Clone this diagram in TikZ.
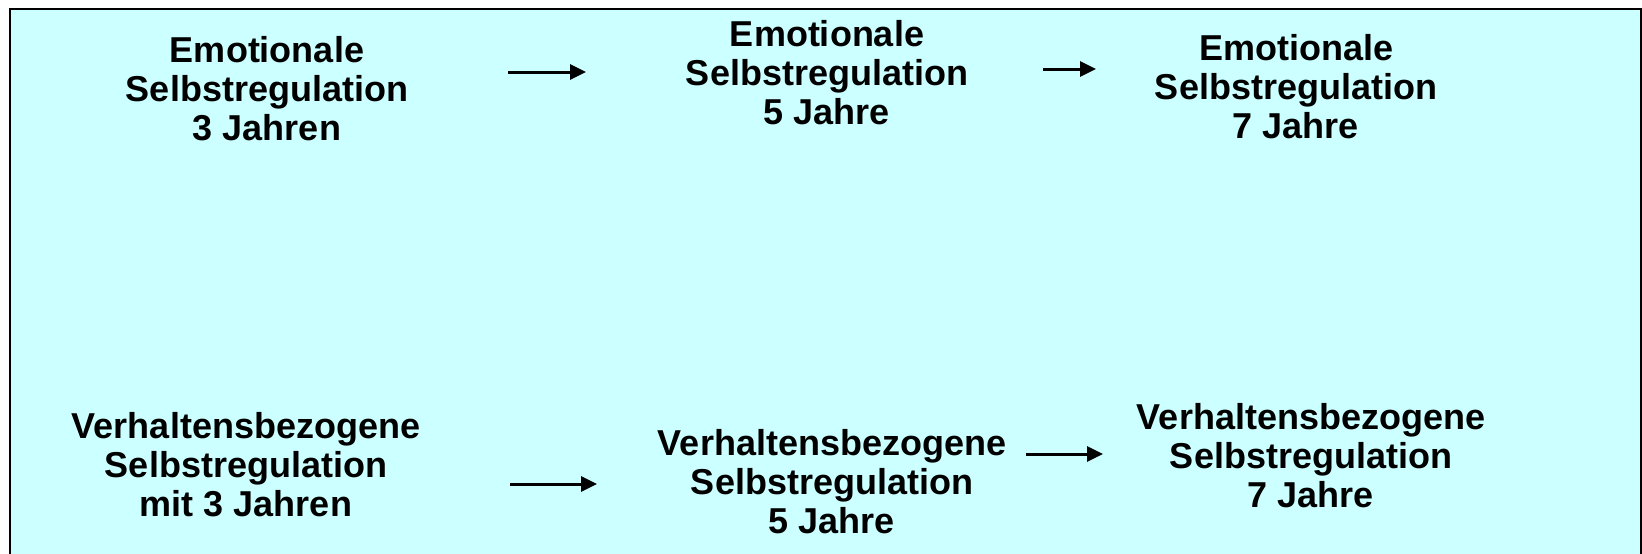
\documentclass[tikz,border=0pt]{standalone}
\usepackage{fontspec}
\setmainfont{Liberation Sans}
\usetikzlibrary{arrows.meta}
\definecolor{panelcyan}{RGB}{204,255,255}
\begin{document}
\begin{tikzpicture}
    [x=0.5pt,y=-0.5pt,
     every node/.style={inner sep=0pt,align=center,font=\bfseries\fontsize{18}{19.5}\selectfont},
     link/.style={-{Triangle[length=8pt,width=7.5pt]},line width=1.5pt}]
    \useasboundingbox (0,0) rectangle (1642,553);
    \fill[white] (0,0) rectangle (1642,553);
    \draw[fill=panelcyan,line width=1.2pt] (10,9) rectangle (1641,570);
    % emotionale Selbstregulation
    \node (emo3) at (267,89)  {Emotionale\\Selbstregulation\\3 Jahren};
    \node (emo5) at (827,73)  {Emotionale\\Selbstregulation\\5 Jahre};
    \node (emo7) at (1296,87) {Emotionale\\Selbstregulation\\7 Jahre};
    % verhaltensbezogene Selbstregulation
    \node (verh3) at (246,465)  {Verhaltensbezogene\\Selbstregulation\\mit 3 Jahren};
    \node (verh5) at (832,482)  {Verhaltensbezogene\\Selbstregulation\\5 Jahre};
    \node (verh7) at (1311,456) {Verhaltensbezogene\\Selbstregulation\\7 Jahre};
    % Pfeile
    \coordinate (emoA) at (508,72);
    \coordinate (emoB) at (586,72);
    \coordinate (emoC) at (1043,69);
    \coordinate (emoD) at (1096,69);
    \coordinate (verhA) at (510,484);
    \coordinate (verhB) at (597,484);
    \coordinate (verhC) at (1026,454);
    \coordinate (verhD) at (1103,454);
    \draw[link] (emoA) -- (emoB);
    \draw[link] (emoC) -- (emoD);
    \draw[link] (verhA) -- (verhB);
    \draw[link] (verhC) -- (verhD);
  \end{tikzpicture}
\end{document}
